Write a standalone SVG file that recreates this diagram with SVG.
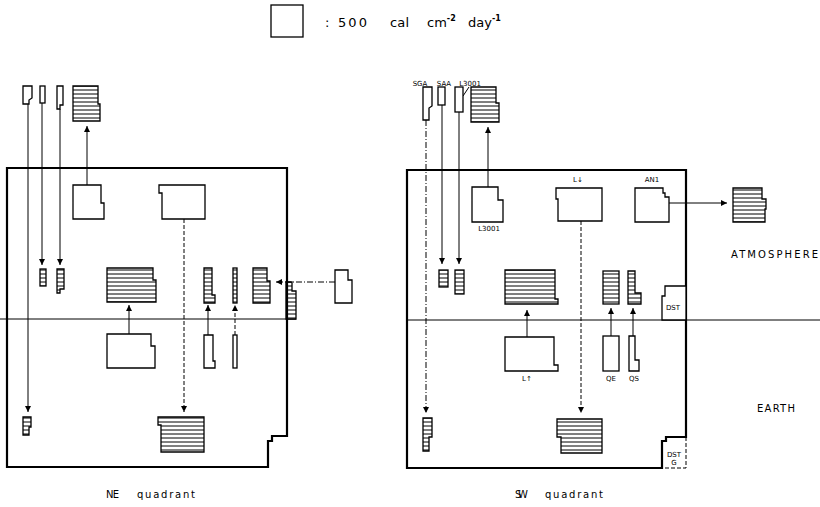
<svg xmlns="http://www.w3.org/2000/svg" width="820" height="507" viewBox="0 0 820 507">
<defs>
<pattern id="hatch" width="8" height="4" patternUnits="userSpaceOnUse">
<rect width="8" height="4" fill="#fff"/>
<line x1="0" y1="2" x2="8" y2="2" stroke="#000" stroke-width="1"/>
</pattern>
<marker id="ah" viewBox="0 0 8 8" refX="8" refY="4" markerWidth="6" markerHeight="6" markerUnits="userSpaceOnUse" orient="auto">
<path d="M0,0 L8,4 L0,8 Z" fill="#000"/>
</marker>
</defs>
<style>
.bx{fill:#fff;stroke:#000;stroke-width:1.3;stroke-linejoin:miter}
.hb{fill:url(#hatch);stroke:#000;stroke-width:1.3}
.ln{fill:none;stroke:#000;stroke-width:1}
.ds{fill:none;stroke:#000;stroke-width:1;stroke-dasharray:4,2}
.dd{fill:none;stroke:#000;stroke-width:1;stroke-dasharray:6,2,1,2}
.fr{fill:none;stroke:#000;stroke-width:2.2}
.t{font-family:"DejaVu Sans","Liberation Sans",sans-serif;fill:#000}
.s{font-size:7px}
.m{font-size:10px}
.lg{font-size:13px}
</style>
<rect width="820" height="507" fill="#fff"/>

<g id="legend">
<rect x="271" y="5" width="32" height="32" class="bx"/>
<text class="t lg" x="325" y="27">:</text>
<text class="t lg" x="338" y="27" textLength="29">500</text>
<text class="t lg" x="390" y="27" textLength="19">cal</text>
<text class="t lg" x="427" y="27">cm<tspan font-size="8" dy="-6" font-weight="bold">-2</tspan></text>
<text class="t lg" x="468" y="27">day<tspan font-size="8" dy="-6" font-weight="bold">-1</tspan></text>
</g>

<!-- NE quadrant -->
<g id="ne-frame">
<path d="M0,319 H296" class="ln"/>
<path d="M286,282 H292 V291 H296 V319 H286 Z" class="hb"/>
<path d="M7,168 H287 V436 H272 V441 H268 V467 H7 Z" class="fr"/>
</g>
<g id="ne-connectors">
<path d="M28,104 V412" class="ln" marker-end="url(#ah)"/>
<path d="M42,103 V265" class="ln" marker-end="url(#ah)"/>
<path d="M60,109 V265" class="ln" marker-end="url(#ah)"/>
<path d="M87,185 V126" class="ln" marker-end="url(#ah)"/>
<path d="M184,219 V412" class="ds" marker-end="url(#ah)"/>
<path d="M129,334 V305" class="ln" marker-end="url(#ah)"/>
<path d="M208,335 V305" class="ln" marker-end="url(#ah)"/>
<path d="M235,335 V305" class="ds" marker-end="url(#ah)"/>
<path d="M335,282 H276" class="dd" marker-end="url(#ah)"/>
</g>
<g id="ne-i1"><path d="M23,86 H32 V98 L29,100 V104 H23 Z" class="bx"/></g>
<g id="ne-i2"><rect x="40" y="86" width="5" height="17" class="bx"/></g>
<g id="ne-i3"><path d="M57,86 H63 V105 H60 V109 H57 Z" class="bx"/></g>
<g id="ne-i4"><path d="M73,86 H98 V104 H100 V121 H73 Z" class="hb"/></g>
<g id="ne-t1"><path d="M23,417 H31 V427 H29 V435 H23 Z" class="hb"/></g>
<g id="ne-t2"><rect x="40" y="269" width="6" height="17" class="hb"/></g>
<g id="ne-t3"><path d="M57,269 H64 V289 H60 V293 H57 Z" class="hb"/></g>
<g id="ne-a"><path d="M73,185 H101 V203 H104 V219 H73 Z" class="bx"/></g>
<g id="ne-b"><path d="M159,185 H205 V219 H162 V193 H159 Z" class="bx"/></g>
<g id="ne-c"><path d="M107,268 H153 V280 H156 V302 H107 Z" class="hb"/></g>
<g id="ne-d"><path d="M107,334 H151 V346 H155 V368 H107 Z" class="bx"/></g>
<g id="ne-e"><path d="M204,268 H212 V295 H215 V303 H204 Z" class="hb"/></g>
<g id="ne-f"><path d="M204,335 H213 V361 H215 V368 H204 Z" class="bx"/></g>
<g id="ne-g"><rect x="233" y="268" width="4" height="35" class="hb"/></g>
<g id="ne-h"><rect x="233" y="335" width="4" height="33" class="bx"/></g>
<g id="ne-i"><path d="M253,268 H267 V281 H270 V303 H253 Z" class="hb"/></g>
<g id="ne-j"><path d="M158,417 H204 V452 H161 V425 H158 Z" class="hb"/></g>
<g id="ne-r"><path d="M335,270 H348 V280 H352 V303 H335 Z" class="bx"/></g>
<g id="ne-label">
<text class="t m" x="106" y="498" textLength="13">NE</text>
<text class="t m" x="137" y="498" textLength="58">quadrant</text>
</g>

<!-- SW quadrant -->
<g id="sw-frame">
<path d="M407,320 H820" class="ln"/>
<path d="M407,170 H686 V437 H666 V441 H662 V468 H407 Z" class="fr" stroke-width="2.5"/>
<path d="M686,437 V468 H662" class="ds" stroke-width="1.5"/>
</g>
<g id="sw-connectors">
<path d="M426,120 V413" class="dd" marker-end="url(#ah)"/>
<path d="M442,105 V264" class="ln" marker-end="url(#ah)"/>
<path d="M459,112 V264" class="ln" marker-end="url(#ah)"/>
<path d="M488,187 V127" class="ln" marker-end="url(#ah)"/>
<path d="M581,221 V413" class="ds" marker-end="url(#ah)"/>
<path d="M669,203 H727" class="ln" marker-end="url(#ah)"/>
<path d="M527,337 V310" class="ln" marker-end="url(#ah)"/>
<path d="M611,336 V308" class="ln" marker-end="url(#ah)"/>
<path d="M633,336 V308" class="ln" marker-end="url(#ah)"/>
<path d="M463,96 L469,87" class="ln"/>
</g>
<g id="sw-sga">
<text class="t s" x="420" y="86" text-anchor="middle">SGA</text>
<path d="M423,87 H432 V106 L429,108 V120 H423 Z" class="bx"/>
</g>
<g id="sw-saa">
<text class="t s" x="444" y="86" text-anchor="middle">SAA</text>
<rect x="438" y="87" width="7" height="18" class="bx"/>
</g>
<g id="sw-l3001i">
<text class="t s" x="470" y="86" text-anchor="middle">L3001</text>
<rect x="455" y="87" width="8" height="25" class="bx"/>
</g>
<g id="sw-top-h"><path d="M471,87 H496 V103 H499 V122 H471 Z" class="hb"/></g>
<g id="sw-t1"><path d="M423,418 H432 V437 H429 V451 H423 Z" class="hb"/></g>
<g id="sw-t2"><rect x="439" y="270" width="9" height="17" class="hb"/></g>
<g id="sw-t3"><rect x="455" y="270" width="9" height="24" class="hb"/></g>
<g id="sw-l3001">
<path d="M472,187 H498 V200 H503 V222 H472 Z" class="bx"/>
<text class="t s" x="489" y="231" text-anchor="middle">L3001</text>
</g>
<g id="sw-ldown">
<text class="t s" x="578" y="182" text-anchor="middle">L↓</text>
<path d="M556,188 H602 V221 H558 V199 H556 Z" class="bx"/>
</g>
<g id="sw-an1">
<text class="t s" x="652" y="182" text-anchor="middle">AN1</text>
<path d="M635,188 H663 V193 H665 V197 H669 V222 H635 Z" class="bx"/>
</g>
<g id="sw-atm-h"><path d="M733,188 H762 V199 H766 V209 H765 V222 H733 Z" class="hb"/></g>
<g id="sw-lup-h"><path d="M505,270 H555 V299 H558 V304 H505 Z" class="hb"/></g>
<g id="sw-lup">
<path d="M505,337 H554 V365 H558 V371 H505 Z" class="bx"/>
<text class="t s" x="527" y="381" text-anchor="middle">L↑</text>
</g>
<g id="sw-qe-h"><rect x="603" y="271" width="16" height="33" class="hb"/></g>
<g id="sw-qe">
<rect x="603" y="336" width="16" height="35" class="bx"/>
<text class="t s" x="611" y="381" text-anchor="middle">QE</text>
</g>
<g id="sw-qs-h"><path d="M628,271 H635 V293 H641 V304 H628 Z" class="hb"/></g>
<g id="sw-qs">
<path d="M629,336 H635 V360 H639 V371 H629 Z" class="bx"/>
<text class="t s" x="634" y="381" text-anchor="middle">QS</text>
</g>
<g id="sw-bottom-h"><path d="M557,419 H602 V453 H561 V437 H557 Z" class="hb"/></g>
<g id="sw-dst">
<path d="M665,286 H686 V320 H662 V296 H665 Z" class="bx" stroke-width="1"/>
<text class="t s" x="673" y="310" text-anchor="middle">DST</text>
</g>
<g id="sw-dstg">
<text class="t s" x="674" y="457" text-anchor="middle">DST</text>
<text class="t s" x="674" y="465" text-anchor="middle">G</text>
</g>
<g id="labels">
<text class="t" x="731" y="258" font-size="10" textLength="87">ATMOSPHERE</text>
<text class="t" x="757" y="412" font-size="10" textLength="38">EARTH</text>
<text class="t m" x="515" y="498" textLength="13">SW</text>
<text class="t m" x="545" y="498" textLength="58">quadrant</text>
</g>
</svg>
